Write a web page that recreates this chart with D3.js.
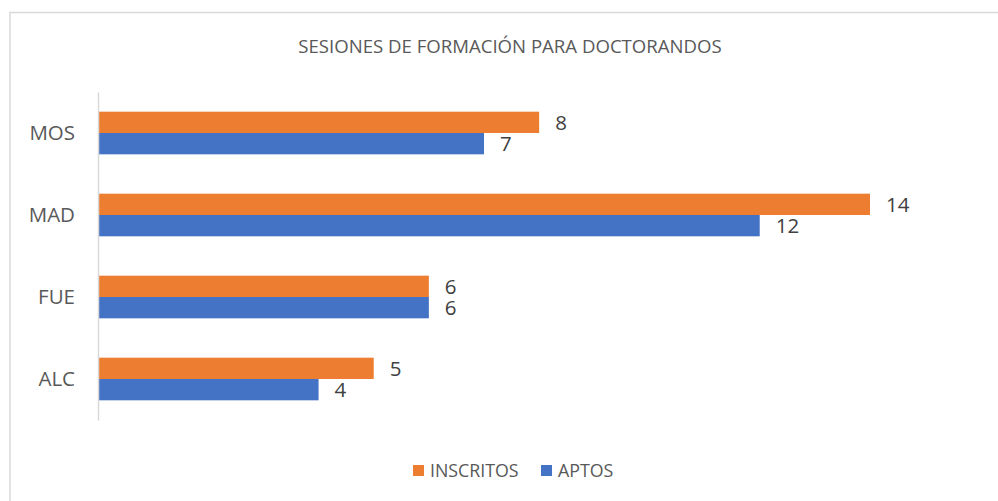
<!DOCTYPE html>
<html>
<head>
<meta charset="utf-8">
<script src="https://cdn.jsdelivr.net/npm/d3@7"></script>
<style>
  body { margin: 0; background: #fff; }
  text { font-family: "Open Sans", sans-serif; }
</style>
</head>
<body>
<div id="chart"></div>
<script>
// datos
var categorias = ["MOS", "MAD", "FUE", "ALC"];
var series = ["INSCRITOS", "APTOS"];
var inscritos = [8, 14, 6, 5];
var aptos = [7, 12, 6, 4];
var colores = ["#ED7D31", "#4472C4"];
var titulo = "SESIONES DE FORMACIÓN PARA DOCTORANDOS";

var width = 998, height = 501;
var margins = {left: 98, right: 128, top: 92, bottom: 81};

var svg = d3.select("#chart").append("svg")
    .attr("width", width)
    .attr("height", height);

// marco del area del grafico
svg.append("path")
    .attr("d", "M10," + height + " V12.5 H" + width)
    .attr("fill", "none")
    .attr("stroke", "#d9d9d9")
    .attr("stroke-width", 1.5);

svg.append("text")
    .attr("x", 510)
    .attr("y", 46)
    .attr("dy", "0.36em")
    .attr("text-anchor", "middle")
    .attr("fill", "#595959")
    .style("font-size", "18.6px")
    .text(titulo);

var x = d3.scaleLinear()
    .domain([0, 14])
    .range([margins.left, width - margins.right]);

var y = d3.scaleBand()
    .domain(categorias)
    .range([margins.top, height - margins.bottom])
    .paddingInner(0.48)
    .paddingOuter(0.24);

var ySub = d3.scaleBand()
    .domain(series)
    .range([0, y.bandwidth()]);

var filas = categorias.map(function(c, i){
    return {cat: c, valores: [inscritos[i], aptos[i]]};
});

var grupos = svg.selectAll(".grupo")
    .data(filas)
    .enter()
    .append("g")
    .attr("class", "grupo")
    .attr("transform", (d) => "translate(0," + y(d.cat) + ")");

grupos.selectAll("rect")
    .data((d) => d.valores.map((v, j) => ({serie: series[j], v: v, j: j})))
    .enter()
    .append("rect")
    .attr("x", x(0))
    .attr("y", (d) => ySub(d.serie))
    .attr("width", (d) => x(d.v) - x(0))
    .attr("height", ySub.bandwidth())
    .attr("fill", (d) => colores[d.j]);

grupos.selectAll(".etiqueta")
    .data((d) => d.valores.map((v, j) => ({serie: series[j], v: v, j: j})))
    .enter()
    .append("text")
    .attr("class", "etiqueta")
    .attr("x", (d) => x(d.v) + 16)
    .attr("y", (d) => ySub(d.serie) + ySub.bandwidth() / 2)
    .attr("dy", "0.36em")
    .attr("fill", "#404040")
    .style("font-size", "20.5px")
    .text((d) => d.v);

var eje = svg.append("g")
    .attr("transform", "translate(" + x(0) + ",0)")
    .call(d3.axisLeft(y).tickSize(0).tickPadding(23));
eje.select(".domain").attr("stroke", "#d9d9d9").attr("stroke-width", 1.5);
eje.selectAll("text")
    .attr("fill", "#595959")
    .style("font-size", "20.5px")
    .style("font-family", "'Open Sans', sans-serif");

// leyenda
var leyendaX = [413, 541];
var leyenda = svg.selectAll(".leyenda")
    .data(series)
    .enter()
    .append("g")
    .attr("class", "leyenda")
    .attr("transform", (d, i) => "translate(" + leyendaX[i] + ",465)");
leyenda.append("rect")
    .attr("width", 11)
    .attr("height", 11)
    .attr("fill", (d, i) => colores[i]);
leyenda.append("text")
    .attr("x", 17)
    .attr("y", 5.5)
    .attr("dy", "0.36em")
    .attr("fill", "#595959")
    .style("font-size", "17.8px")
    .text((d) => d);
</script>
</body>
</html>
